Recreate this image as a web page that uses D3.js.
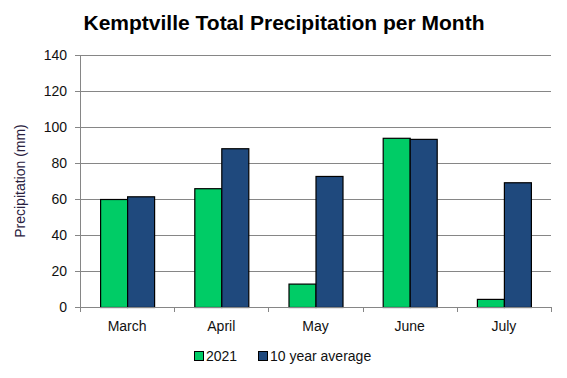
<!DOCTYPE html>
<html>
<head>
<meta charset="utf-8">
<script src="https://cdn.jsdelivr.net/npm/d3@7/dist/d3.min.js"></script>
<style>
  body { margin: 0; background: #fff; }
  text { font-family: "Liberation Sans", Arial, sans-serif; }
</style>
</head>
<body>
<div id="chart"></div>
<script>
var months = ["March", "April", "May", "June", "July"];
var series = ["2021", "10 year average"];
var values2021 = [60, 66, 13, 94, 4.5];
var valuesAvg = [61.5, 88.2, 72.8, 93.4, 69.3];
var yTicks = [0, 20, 40, 60, 80, 100, 120, 140];
var colors = ["#00cc66", "#1f497d"];

const width = 567, height = 378;
const margin = {top: 55, right: 16, bottom: 71, left: 80};
var innerW = width - margin.left - margin.right;
var innerH = height - margin.top - margin.bottom;

var svg = d3.select("#chart")
    .append("svg")
    .attr("width", width)
    .attr("height", height);

var g = svg.append("g")
    .attr("transform", "translate(" + margin.left + "," + margin.top + ")");

var xScale = d3.scaleBand().domain(months).range([0, innerW]).paddingInner(0).paddingOuter(0);
var xInner = d3.scaleBand().domain(series).range([0, 54]);
var yScale = d3.scaleLinear().domain([0, 140]).range([innerH, 0]);

// gridlines
g.append("g")
    .selectAll("line")
    .data(yTicks)
    .enter()
    .append("line")
    .attr("x1", -5)
    .attr("x2", innerW)
    .attr("y1", d => yScale(d) + 0.5)
    .attr("y2", d => yScale(d) + 0.5)
    .style("stroke", "#868686")
    .style("stroke-width", 1);

// y labels
g.append("g")
    .selectAll("text")
    .data(yTicks)
    .enter()
    .append("text")
    .attr("x", -13)
    .attr("y", d => yScale(d))
    .attr("dy", "0.35em")
    .attr("text-anchor", "end")
    .style("font-size", "14px")
    .style("fill", "#111")
    .text(d => d);

// bars
var data = months.map((m, i) => ({month: m, vals: [values2021[i], valuesAvg[i]]}));
var groups = g.selectAll("g.grp")
    .data(data)
    .enter()
    .append("g")
    .attr("class", "grp")
    .attr("transform", d => "translate(" + (xScale(d.month) + (xScale.bandwidth() - 54) / 2) + ",0)");

groups.selectAll("rect")
    .data(d => d.vals.map((v, j) => ({s: series[j], v: v, j: j})))
    .enter()
    .append("rect")
    .attr("x", d => xInner(d.s) + 0.5)
    .attr("y", d => yScale(d.v) + 0.5)
    .attr("width", xInner.bandwidth())
    .attr("height", d => innerH - yScale(d.v))
    .style("fill", d => colors[d.j])
    .style("stroke", "#000")
    .style("stroke-width", 1.2);

// axes lines
g.append("line")
    .attr("x1", 0.5).attr("x2", 0.5)
    .attr("y1", 0).attr("y2", innerH + 5)
    .style("stroke", "#868686");
g.append("line")
    .attr("x1", 0).attr("x2", innerW)
    .attr("y1", innerH + 0.5).attr("y2", innerH + 0.5)
    .style("stroke", "#868686");

// x ticks at category boundaries
var bounds = months.map(m => xScale(m)).concat([innerW]);
g.append("g")
    .selectAll("line")
    .data(bounds)
    .enter()
    .append("line")
    .attr("x1", d => Math.round(d) + 0.5)
    .attr("x2", d => Math.round(d) + 0.5)
    .attr("y1", innerH)
    .attr("y2", innerH + 5)
    .style("stroke", "#868686");

g.append("g")
    .selectAll("text")
    .data(months)
    .enter()
    .append("text")
    .attr("x", d => xScale(d) + xScale.bandwidth() / 2)
    .attr("y", innerH + 24)
    .attr("text-anchor", "middle")
    .style("font-size", "14px")
    .style("fill", "#111")
    .text(d => d);

// y axis title
svg.append("text")
    .attr("transform", "translate(25," + (margin.top + innerH / 2) + ") rotate(-90)")
    .attr("text-anchor", "middle")
    .style("font-size", "14px")
    .style("fill", "#2a2140")
    .text("Precipitation (mm)");

// title
svg.append("text")
    .attr("x", 284)
    .attr("y", 30)
    .attr("text-anchor", "middle")
    .style("font-size", "21px")
    .style("font-weight", "bold")
    .style("fill", "#000")
    .text("Kemptville Total Precipitation per Month");

// legend
var legend = svg.append("g").attr("transform", "translate(194,351)");
var lx = [0, 64];
series.forEach((s, i) => {
    legend.append("rect")
        .attr("x", lx[i] + 0.5).attr("y", 0.5)
        .attr("width", 9).attr("height", 9)
        .style("fill", colors[i])
        .style("stroke", "#000");
    legend.append("text")
        .attr("x", lx[i] + 12)
        .attr("y", 10)
        .style("font-size", "14px")
        .style("fill", "#111")
        .text(s);
});
</script>
</body>
</html>
